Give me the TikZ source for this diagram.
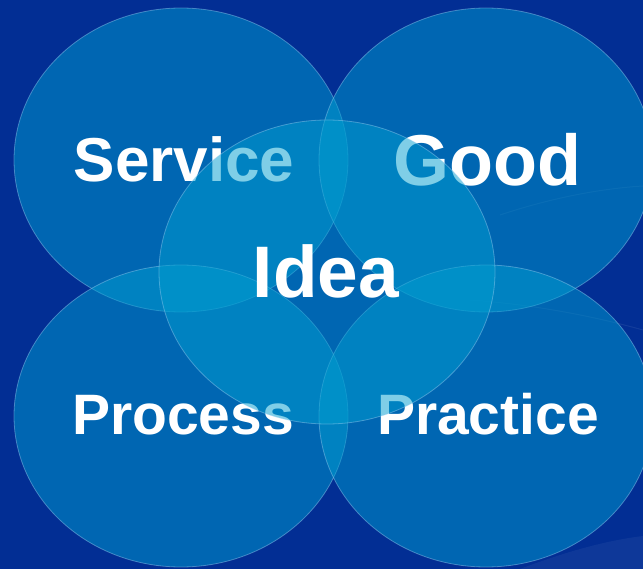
\documentclass[tikz,border=0pt]{standalone}
\usepackage{fontspec}
\setmainfont{Liberation Sans}
\usepackage{tikz}
\definecolor{bgblue}{RGB}{2,46,148}
\definecolor{discblue}{RGB}{0,158,208}
\definecolor{rimblue}{RGB}{150,205,240}

\begin{document}
\begin{tikzpicture}[x=1pt,y=-1pt]
			\tikzstyle{every node}+=[inner sep=0pt,text=white,font=\bfseries]
			\tikzstyle{disc}=[fill=discblue,fill opacity=0.5,draw=rimblue,draw opacity=0.45,line width=0.8pt]
			\tikzstyle{swoosh}=[white,line width=1pt,opacity=0.07]
			\useasboundingbox (0,0) rectangle (643,569);
			\fill [bgblue] (0,0) rectangle (643,569);
			\draw [swoosh] (470,300) .. controls (540,305) and (600,318) .. (643,330);
			\draw [swoosh] (500,215) .. controls (560,195) and (610,188) .. (643,186);
			\fill [white,opacity=0.05] (520,569) .. controls (570,550) and (610,540) .. (643,536) -- (643,569) -- cycle;
			\draw [disc] (181,160) ellipse (167 and 152);
			\draw [disc] (486,160) ellipse (167 and 152);
			\draw [disc] (181,416) ellipse (167 and 151);
			\draw [disc] (486,416) ellipse (167 and 151);
			\node (service) [anchor=base,font=\bfseries\fontsize{62}{62}\selectfont] at (184,182) {Service};
			\node (good) [anchor=base,font=\bfseries\fontsize{72}{72}\selectfont] at (487,186) {Good};
			\node (process) [anchor=base,font=\bfseries\fontsize{57}{57}\selectfont] at (183,435) {Process};
			\node (practice) [anchor=base,font=\bfseries\fontsize{57}{57}\selectfont] at (488,435) {Practice};
			\draw [disc] (327,272) ellipse (168 and 152);
			\node (idea) [anchor=base,font=\bfseries\fontsize{73}{73}\selectfont] at (326,298) {Idea};
\end{tikzpicture}
\end{document}
